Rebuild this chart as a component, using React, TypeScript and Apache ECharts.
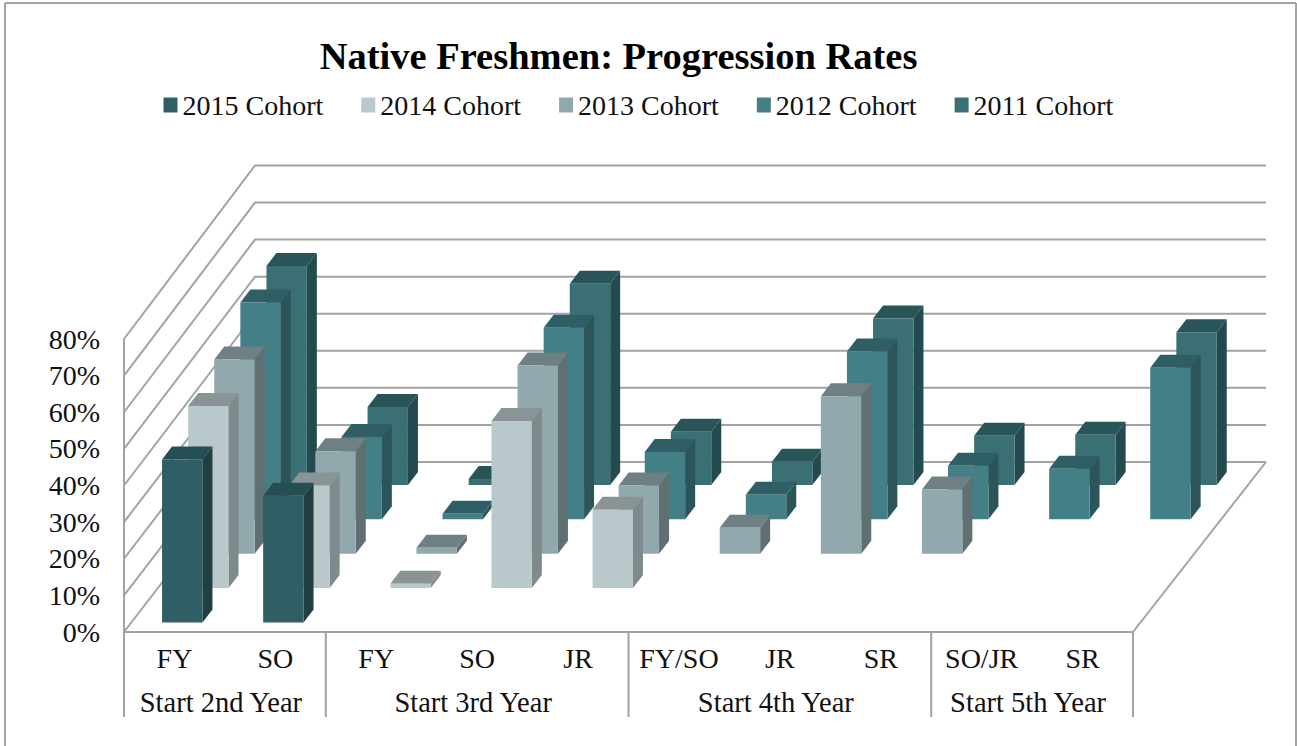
import React, { useEffect, useRef } from "react";
import * as echarts from "echarts";

const categories = ["FY", "SO", "FY", "SO", "JR", "FY/SO", "JR", "SR", "SO/JR", "SR"];
const groupNames = ["Start 2nd Year", "Start 3rd Year", "Start 4th Year", "Start 5th Year"];
const groupSpans = [2, 3, 3, 2];
const ticks = [0, 10, 20, 30, 40, 50, 60, 70, 80];

const cohort2015 = [44.5, 34.6, null, null, null, null, null, null, null, null];
const cohort2014 = [49.7, 28, 1.2, 45.6, 21.4, null, null, null, null, null];
const cohort2013 = [53, 28, 1.6, 51.4, 18.6, 7.1, 43, 17.5, null, null];
const cohort2012 = [59.2, 22.5, 1.5, 52.3, 18.4, 6.7, 45.8, 14.6, 13.8, 41.4];
const cohort2011 = [59.8, 21.3, 1.6, 54.9, 14.5, 6.3, 45.4, 13.4, 13.7, 41.7];

const seriesNames = ["2015 Cohort", "2014 Cohort", "2013 Cohort", "2012 Cohort", "2011 Cohort"];
const seriesValues = [cohort2015, cohort2014, cohort2013, cohort2012, cohort2011];
const frontColors = ["#2f5f64", "#b9c8ca", "#91a8ad", "#437f86", "#3a7074"];
const sideColors = ["#1f3f43", "#7f8a8c", "#5f6f72", "#2c5559", "#234a4e"];
const topColors = ["#264f54", "#8a9496", "#6f8085", "#2f5f64", "#2a5558"];

const FONT = "Liberation Serif";
const GRAY = "#a3a3a3";
const AX_LEFT = 124;
const AX_RIGHT = 1133;
const AX_BOTTOM = 632;
const BACK_LEFT = 255;
const BACK_RIGHT = 1266;
const BACK_BOTTOM = 462;
const ROW_DX = 26.1;
const ROW_DY = -34.4;
const FRONT_DX = 7.8;
const FRONT_DY = -9.5;
const CAT_DX = 0.2;
const BAR_W = 40.4;
const SIDE_DX = 10;
const SIDE_DY = -13;

function wallItem(_p: any, api: any) {
  const yf = api.coord([0, api.value(1)])[1];
  const yb = BACK_BOTTOM - (AX_BOTTOM - yf) * 1.012;
  const line = { stroke: GRAY, lineWidth: 2, fill: "none" };
  const children: any[] = [
    { type: "polyline", shape: { points: [[AX_LEFT, yf], [BACK_LEFT, yb], [BACK_RIGHT, yb]] }, style: line },
  ];
  if (api.value(1) === 0) {
    children.push({ type: "line", shape: { x1: AX_RIGHT, y1: AX_BOTTOM, x2: BACK_RIGHT, y2: BACK_BOTTOM }, style: line });
  }
  return { type: "group", children };
}

function barItem(row: number) {
  return (_p: any, api: any) => {
    const cat = api.value(0);
    const v = api.value(1);
    const top = api.coord([cat, v]);
    const base = api.coord([cat, 0]);
    const cx = top[0] + FRONT_DX + row * ROW_DX + cat * CAT_DX;
    const dy = FRONT_DY + row * ROW_DY;
    const x0 = cx - BAR_W / 2;
    const x1 = cx + BAR_W / 2;
    const y0 = base[1] + dy;
    const y1 = top[1] + dy;
    return {
      type: "group",
      children: [
        {
          type: "polygon",
          shape: { points: [[x1, y1], [x1 + SIDE_DX, y1 + SIDE_DY], [x1 + SIDE_DX, y0 + SIDE_DY], [x1, y0]] },
          style: { fill: sideColors[row] },
        },
        {
          type: "polygon",
          shape: { points: [[x0, y1], [x0 + SIDE_DX, y1 + SIDE_DY], [x1 + SIDE_DX, y1 + SIDE_DY], [x1, y1]] },
          style: { fill: topColors[row] },
        },
        {
          type: "polygon",
          shape: { points: [[x0, y0], [x0, y1], [x1, y1], [x1, y0]] },
          style: { fill: frontColors[row] },
        },
      ],
    };
  };
}

function groupGraphics() {
  const unit = (AX_RIGHT - AX_LEFT) / categories.length;
  const out: any[] = [];
  let cum = 0;
  const vline = (x: number) => ({
    type: "line",
    shape: { x1: x, y1: AX_BOTTOM, x2: x, y2: 717 },
    style: { stroke: GRAY, lineWidth: 2 },
  });
  out.push(vline(AX_LEFT));
  groupNames.forEach((name, i) => {
    const start = AX_LEFT + cum * unit;
    cum += groupSpans[i];
    const end = AX_LEFT + cum * unit;
    out.push(vline(end));
    out.push({
      type: "text",
      x: (start + end) / 2 - 4,
      y: 702,
      style: { text: name, fill: "#111", font: `28.5px "${FONT}"`, textAlign: "center", textVerticalAlign: "middle" },
    });
  });
  const frame = { stroke: GRAY, lineWidth: 2 };
  out.push({ type: "line", shape: { x1: 5, y1: 3, x2: 1296, y2: 3 }, style: frame });
  out.push({ type: "line", shape: { x1: 5, y1: 3, x2: 5, y2: 746 }, style: frame });
  out.push({ type: "line", shape: { x1: 1296, y1: 3, x2: 1296, y2: 746 }, style: frame });
  return out;
}

export default function App() {
  const ref = useRef<HTMLDivElement>(null);
  useEffect(() => {
    const chart = echarts.init(ref.current!, null, { renderer: "svg" });
    const barSeries = seriesNames
      .map((name, row) => ({
        type: "custom",
        name,
        coordinateSystem: "cartesian2d",
        silent: true,
        encode: { x: 0, y: 1 },
        itemStyle: { color: frontColors[row] },
        renderItem: barItem(row),
        data: seriesValues[row]
          .map((v, i) => [i, v])
          .filter((d) => d[1] !== null),
      }))
      .reverse();
    chart.setOption({
      animation: false,
      backgroundColor: "#fff",
      title: {
        text: "Native Freshmen: Progression Rates",
        left: 613.5,
        top: 31,
        textAlign: "center",
        textStyle: { fontFamily: FONT, fontWeight: "bold", fontSize: 38.5, color: "#000" },
      },
      legend: {
        data: seriesNames,
        left: 158.5,
        top: 86,
        icon: "rect",
        itemWidth: 14,
        itemHeight: 15,
        itemGap: 38,
        textStyle: { fontFamily: FONT, fontSize: 28, color: "#111" },
      },
      grid: { left: AX_LEFT, right: 1297 - AX_RIGHT, top: 339, height: AX_BOTTOM - 339 },
      xAxis: {
        type: "category",
        data: categories,
        axisLine: { lineStyle: { color: GRAY, width: 2 } },
        axisTick: { show: false },
        axisLabel: { interval: 0, fontFamily: FONT, fontSize: 28, color: "#111", margin: 12 },
      },
      yAxis: {
        type: "value",
        min: 0,
        max: 80,
        interval: 10,
        axisLine: { show: true, lineStyle: { color: GRAY, width: 2 } },
        axisTick: { show: false },
        splitLine: { show: false },
        axisLabel: { fontFamily: FONT, fontSize: 28, color: "#111", margin: 24, formatter: "{value}%" },
      },
      series: [
        {
          type: "custom",
          name: "walls",
          coordinateSystem: "cartesian2d",
          silent: true,
          encode: { x: 0, y: 1 },
          renderItem: wallItem,
          data: ticks.map((t) => [0, t]),
        },
        ...barSeries,
      ],
      graphic: groupGraphics(),
    });
    return () => chart.dispose();
  }, []);
  return <div ref={ref} style={{ position: "fixed", left: 0, top: 0, width: 1297, height: 746 }} />;
}
